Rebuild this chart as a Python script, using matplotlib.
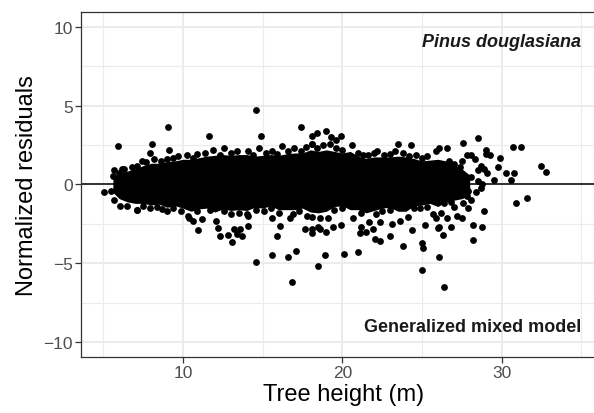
import matplotlib
matplotlib.use("Agg")
import matplotlib.pyplot as plt
import numpy as np

plt.rcParams['font.family'] = ['Liberation Sans', 'DejaVu Sans']

# dense core of the cloud (envelope)
core_x = [5.6, 6.0, 6.5, 7.0, 7.5, 8.0, 8.5, 9.0, 9.5, 10.0, 10.5, 11.0, 11.5, 12.0,
          12.5, 13.0, 13.5, 14.0, 14.5, 15.0, 15.5, 16.0, 16.5, 17.0, 17.5, 18.0,
          18.5, 19.0, 19.5, 20.0, 20.5, 21.0, 21.5, 22.0, 22.5, 23.0, 23.5, 24.0,
          24.5, 25.0, 25.5, 26.0, 26.5, 27.0, 27.5, 28.0]
core_hi = [0.5, 0.7, 0.85, 1.0, 1.2, 1.35, 1.35, 1.45, 1.5, 1.6, 1.6, 1.7, 1.8, 1.85,
           1.9, 1.85, 1.9, 1.9, 1.8, 1.85, 1.9, 1.85, 1.95, 2.0, 2.0, 2.2,
           2.1, 2.2, 2.1, 2.0, 2.1, 1.8, 1.65, 1.75, 1.75, 1.75, 1.8, 1.75,
           1.65, 1.5, 1.55, 1.6, 1.5, 1.2, 1.0, 0.6]
core_lo = [-0.5, -0.9, -1.1, -1.2, -1.2, -1.3, -1.25, -1.45, -1.35, -1.5, -1.7, -1.55, -1.5, -1.75,
           -1.55, -1.65, -1.6, -1.65, -1.45, -1.5, -1.35, -1.6, -1.6, -1.6, -1.5, -1.75,
           -1.8, -1.7, -1.4, -1.35, -1.6, -1.6, -1.8, -1.65, -1.5, -1.45, -1.7, -1.7,
           -1.35, -1.3, -1.2, -1.4, -1.1, -1.0, -0.9, -0.7]

# points along the upper edge of the cloud
top_x = [6.0, 6.3, 6.8, 7.1, 7.4, 7.7, 8.2, 8.6, 9.0, 9.4, 9.7, 10.25, 10.6, 10.9,
         11.4, 11.9, 12.3, 12.6, 13.0, 13.4, 14.1, 14.4, 14.8, 15.2, 15.6, 15.9,
         16.2, 16.6, 17.0, 17.4, 17.7, 18.1, 18.4, 18.8, 19.2, 19.6, 20.0, 20.6,
         21.0, 21.3, 21.6, 22.0, 22.2, 22.6, 23.0, 23.3, 23.8, 24.2, 24.6, 25.0,
         25.3, 25.9, 26.1, 26.6, 26.7, 27.0, 27.4, 27.5]
top_y = [0.7, 1.0, 1.1, 1.2, 1.5, 1.45, 1.6, 1.5, 1.65, 1.7, 1.8, 1.85, 1.7, 1.95,
         2.0, 2.2, 1.9, 2.3, 2.0, 2.15, 2.15, 1.9, 2.3, 2.0, 2.1, 1.95,
         2.45, 2.1, 2.3, 2.1, 2.4, 2.6, 2.3, 2.5, 2.6, 2.3, 2.2, 2.5,
         2.0, 1.9, 1.85, 2.0, 2.15, 1.9, 1.95, 2.1, 2.0, 1.8, 1.9, 1.7,
         1.8, 2.15, 2.3, 2.3, 1.5, 1.3, 1.1, 1.5]

# points along the lower edge of the cloud
bot_x = [5.5, 5.7, 6.05, 6.5, 7.1, 7.5, 7.9, 8.4, 8.7, 9.0, 9.4, 9.9, 10.3, 10.4,
         10.6, 10.9, 11.2, 11.7, 12.1, 12.6, 13.0, 13.5, 14.0, 14.1, 14.6, 15.1,
         15.5, 15.6, 16.0, 16.7, 16.9, 17.3, 17.8, 18.1, 18.6, 19.1, 19.5, 20.0,
         20.7, 21.2, 21.7, 22.1, 22.5, 23.0, 23.6, 24.1, 24.5, 24.9, 25.3, 25.7,
         25.9, 26.2, 26.4, 26.8, 27.0, 27.4, 27.6, 27.9]
bot_y = [-0.4, -1.0, -1.35, -1.35, -1.65, -1.35, -1.5, -1.4, -1.55, -1.7, -1.5, -1.7, -2.0, -2.15,
         -2.3, -1.7, -2.2, -1.65, -2.3, -1.7, -1.9, -1.8, -1.85, -2.0, -1.6, -1.7,
         -1.5, -2.15, -1.8, -2.15, -1.85, -1.7, -2.0, -2.05, -2.1, -2.15, -1.6, -1.5,
         -2.15, -1.8, -2.35, -1.9, -1.7, -1.6, -2.3, -2.05, -1.5, -1.5, -1.4, -1.85,
         -2.15, -1.8, -1.2, -1.1, -1.4, -0.6, -1.2, -1.5]

# scattered points above the cloud and at the right end
up_x = [5.9, 8.05, 9.05, 9.1, 7.9, 11.65, 14.6, 14.9, 17.4, 18.1, 18.4, 19.0, 19.3,
        19.6, 19.9, 18.1, 23.5, 24.3, 27.6, 28.5, 29.0, 29.05, 29.3, 29.9, 29.8,
        30.3, 30.8, 30.6, 30.7, 31.2, 32.5, 32.8, 29.5, 29.1, 27.8, 28.1, 28.3,
        28.7, 28.9, 28.5, 28.1, 28.5, 28.8, 28.7, 28.4, 27.9, 27.8, 28.1, 5.05,
        5.6, 5.7, 6.2]
up_y = [2.45, 2.6, 3.68, 2.2, 2.0, 3.05, 4.7, 3.05, 3.65, 3.1, 3.25, 3.4, 3.0,
        2.8, 3.1, 2.6, 2.55, 2.5, 2.65, 2.95, 2.17, 1.95, 1.85, 1.7, 1.1,
        0.72, 0.74, 0.27, 2.4, 2.35, 1.2, 0.8, 0.27, 0.7, 1.85, 1.85, 1.6,
        1.2, 1.0, 0.9, 0.5, 0.25, 0.06, -0.25, -0.45, -0.4, -0.75, -1.0, -0.45,
        0.55, 0.9, 1.0]

# scattered points below the cloud
low_x = [30.9, 31.6, 28.9, 28.2, 28.8, 28.2, 26.1, 26.4, 26.3, 26.8, 26.1, 26.6,
         27.2, 27.5, 18.9, 18.5, 20.1, 21.0, 25.0, 25.0, 25.05, 23.8, 23.0, 22.35,
         22.05, 21.1, 21.5, 21.9, 22.35, 19.0, 19.4, 19.9, 21.2, 23.1, 24.4, 25.2,
         26.0, 18.6, 14.6, 16.85, 15.6, 16.6, 17.1, 15.9, 16.1, 12.3, 12.8, 13.1,
         13.4, 13.7, 13.2, 13.6, 12.2, 14.1, 17.65, 18.1, 18.5, 18.1, 10.95, 7.1]
low_y = [-1.15, -0.85, -1.7, -2.55, -2.7, -3.55, -4.6, -6.5, -3.2, -2.7, -2.7, -2.15,
         -2.0, -2.1, -4.45, -5.2, -4.4, -4.3, -5.4, -3.7, -4.0, -3.9, -3.3, -3.6,
         -3.45, -3.1, -3.0, -2.8, -2.35, -3.0, -2.7, -2.6, -2.7, -2.5, -2.9, -2.6,
         -2.75, -2.8, -4.95, -6.2, -4.5, -4.6, -4.25, -3.3, -2.65, -3.3, -3.2, -3.65,
         -3.15, -3.3, -2.8, -2.8, -2.75, -2.65, -2.8, -2.8, -2.7, -3.1, -2.9, -1.65]

x_ticks = [10, 20, 30]
y_ticks = [-10, -5, 0, 5, 10]


def main():
    fig = plt.figure(figsize=(5.94, 4.14), dpi=100)
    ax = fig.add_axes([0.1364, 0.1353, 0.8636, 0.8333])

    ax.set_xlim(3.6, 35.8)
    ax.set_ylim(-10.95, 10.95)

    ax.set_xticks(x_ticks)
    ax.set_yticks(y_ticks)
    ax.set_xticks([5, 15, 25, 35], minor=True)
    ax.set_yticks([-7.5, -2.5, 2.5, 7.5], minor=True)
    ax.grid(which='major', color='#ebebeb', lw=1.4, zorder=0)
    ax.grid(which='minor', color='#ebebeb', lw=0.8, zorder=0)
    ax.set_axisbelow(True)
    ax.tick_params(which='minor', length=0)
    ax.tick_params(which='major', length=4, width=0.9, color='#333333',
                   labelsize=12.5, labelcolor='#4d4d4d', pad=2)

    for s in ['left', 'bottom', 'top']:
        ax.spines[s].set_color('#333333')
        ax.spines[s].set_linewidth(0.9)
    ax.spines['right'].set_visible(False)

    ax.axhline(0, color='black', lw=1.1, zorder=1)

    ax.fill_between(core_x, core_lo, core_hi, color='black', lw=0, zorder=2)
    for xs, ys in [(top_x, top_y), (bot_x, bot_y), (up_x, up_y), (low_x, low_y)]:
        ax.scatter(xs, ys, s=24, color='black', linewidths=0, zorder=3)

    ax.text(35, 9.05, 'Pinus douglasiana', ha='right', va='center',
            fontsize=13, fontweight='bold', fontstyle='italic', color='#1a1a1a')
    ax.text(35, -9.0, 'Generalized mixed model', ha='right', va='center',
            fontsize=13, fontweight='bold', color='#1a1a1a')

    ax.set_xlabel('Tree height (m)', fontsize=17, labelpad=3)
    ax.xaxis.set_label_coords(0.511, -0.075)
    ax.set_ylabel('Normalized residuals', fontsize=17, labelpad=4)

    fig.savefig('out.png', dpi=100)


if __name__ == '__main__':
    main()
